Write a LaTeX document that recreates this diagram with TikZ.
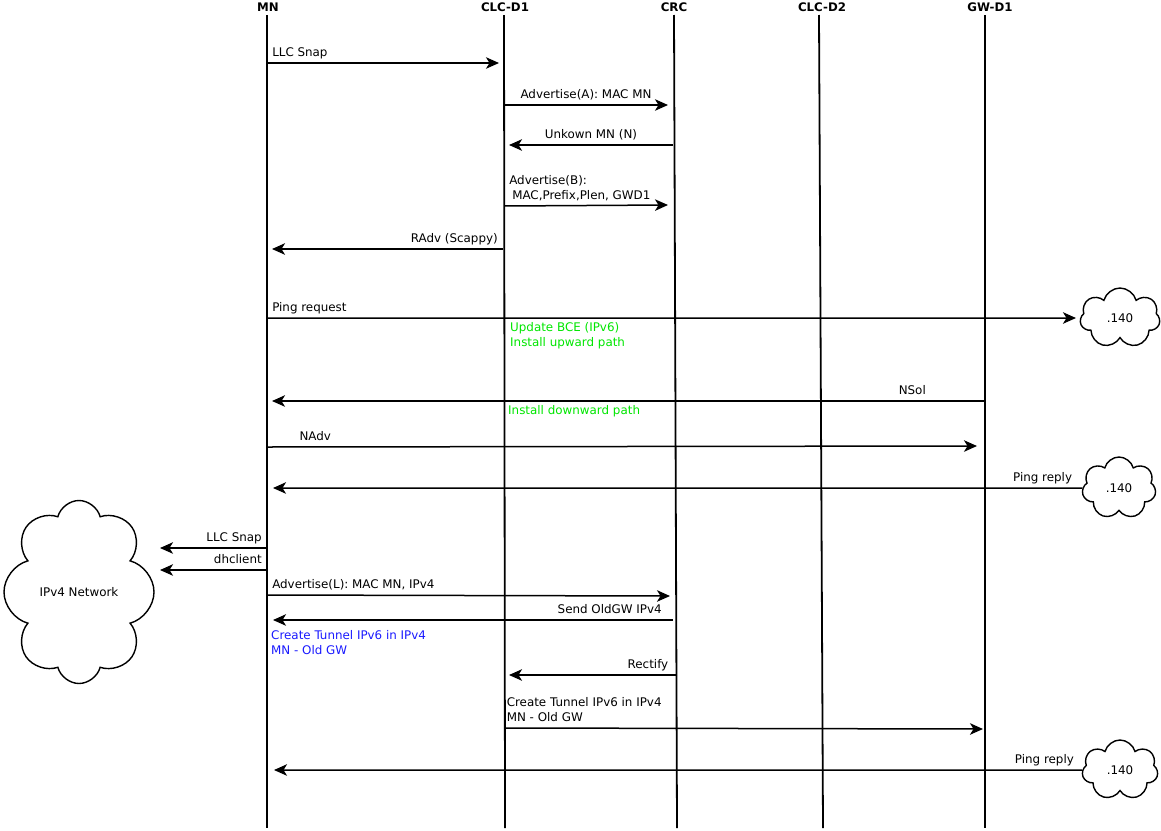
\documentclass[tikz,border=0pt]{standalone}
\usepackage{fontspec}
\setmainfont{DejaVu Sans}
\usetikzlibrary{arrows.meta,positioning,shapes.symbols}
\definecolor{NoteGreen}{HTML}{00E600}
\definecolor{NoteBlue}{HTML}{1A1AFF}

\begin{document}
\begin{tikzpicture}[
  x=1pt, y=-1pt,
  actor/.style={
    font=\fontsize{11.8}{14}\selectfont\bfseries,
    inner sep=2pt
  },
  life/.style={line width=1.8pt},
  msg/.style={-{Stealth[length=13pt,width=11.5pt,inset=3.5pt]},line width=1.5pt},
  lbl/.style={
    font=\fontsize{11.9}{15}\selectfont,
    align=left,
    inner xsep=4.5pt,
    inner ysep=2.5pt,
    text depth=3.5pt
  },
  note/.style={
    font=\fontsize{11.9}{15}\selectfont,
    align=left,
    anchor=north west,
    inner sep=0pt
  },
  net/.style={
    cloud,
    draw,
    line width=1.4pt,
    cloud puffs=7,
    cloud ignores aspect,
    font=\fontsize{11.9}{14}\selectfont
  }
]
  \useasboundingbox (0,0) rectangle (1161,830);

  % participants
  \node[actor] (mn) at (268,7) {MN};
  \node[actor] (clcone) at (505,7) {CLC-D1};
  \node[actor] (crc) at (674,7) {CRC};
  \node[actor] (clctwo) at (822,7) {CLC-D2};
  \node[actor] (gw) at (990,7) {GW-D1};

  \coordinate (mnTop) at (267,15);
  \coordinate (mnBot) at (267,828);
  \coordinate (clconeTop) at (504,15);
  \coordinate (clconeBot) at (505,828);
  \coordinate (crcTop) at (674,15);
  \coordinate (crcBot) at (677,828);
  \coordinate (clctwoTop) at (819,15);
  \coordinate (clctwoBot) at (823,828);
  \coordinate (gwTop) at (985,15);
  \coordinate (gwBot) at (985,828);

  \draw[life] (mnTop) -- (mnBot);
  \draw[life] (clconeTop) -- (clconeBot);
  \draw[life] (crcTop) -- (crcBot);
  \draw[life] (clctwoTop) -- (clctwoBot);
  \draw[life] (gwTop) -- (gwBot);

  % clouds
  \node[net, minimum width=80pt, minimum height=60pt] (hostA) at (1120,318) {.140};
  \node[net, minimum width=74pt, minimum height=62pt] (hostB) at (1119,488) {.140};
  \node[net, minimum width=76pt, minimum height=60pt] (hostC) at (1120,770) {.140};
  \node[net, minimum width=150pt, minimum height=183pt, cloud puffs=8] (ipvfour) at (79,592) {IPv4 Network};

  % message end points
  \coordinate (snapFrom) at (267,63);
  \coordinate (snapTo) at (499,63);
  \coordinate (advaFrom) at (504,105);
  \coordinate (advaTo) at (668,105);
  \coordinate (unknFrom) at (673,145);
  \coordinate (unknTo) at (509,145);
  \coordinate (advbFrom) at (504,206);
  \coordinate (advbTo) at (668,205);
  \coordinate (radvFrom) at (503,249);
  \coordinate (radvTo) at (272,249);
  \coordinate (pingFrom) at (267,318);
  \coordinate (nsolFrom) at (985,401);
  \coordinate (nsolTo) at (272,401);
  \coordinate (nadvFrom) at (267,447);
  \coordinate (nadvTo) at (977,446);
  \coordinate (replyTo) at (273,488);
  \coordinate (llcFrom) at (267,548);
  \coordinate (llcTo) at (160,548);
  \coordinate (dhcpFrom) at (267,570);
  \coordinate (dhcpTo) at (160,570);
  \coordinate (advlFrom) at (267,595);
  \coordinate (advlTo) at (670,596);
  \coordinate (oldgwFrom) at (673,620);
  \coordinate (oldgwTo) at (273,620);
  \coordinate (rectFrom) at (677,675);
  \coordinate (rectTo) at (509,675);
  \coordinate (tunFrom) at (505,728);
  \coordinate (tunTo) at (983,729);
  \coordinate (lastTo) at (274,770);

  % messages
  \draw[msg] (snapFrom) -- node[lbl, pos=0, above right] {LLC Snap} (snapTo);
  \draw[msg] (advaFrom) -- node[lbl, midway, above] {Advertise(A): MAC MN} (advaTo);
  \draw[msg] (unknFrom) -- node[lbl, midway, above] {Unkown MN (N)} (unknTo);
  \draw[msg] (advbFrom) -- node[lbl, pos=0, above right] {Advertise(B):\\\hspace*{3pt}MAC,Prefix,Plen, GWD1} (advbTo);
  \draw[msg] (radvFrom) -- node[lbl, pos=0, above left] {RAdv (Scappy)} (radvTo);
  \draw[msg, shorten >=4pt] (pingFrom) -- node[lbl, pos=0, above right] {Ping request} (hostA);
  \draw[msg] (nsolFrom) -- node[lbl, pos=0.102, above] {NSol} (nsolTo);
  \draw[msg] (nadvFrom) -- node[lbl, pos=0.068, above] {NAdv} (nadvTo);
  \draw[msg] (hostB) -- node[lbl, pos=0, above left, xshift=-5pt] {Ping reply} (replyTo);
  \draw[msg] (llcFrom) -- node[lbl, pos=0, above left] {LLC Snap} (llcTo);
  \draw[msg] (dhcpFrom) -- node[lbl, pos=0, above left] {dhclient} (dhcpTo);
  \draw[msg] (advlFrom) -- node[lbl, pos=0, above right] {Advertise(L): MAC MN, IPv4} (advlTo);
  \draw[msg] (oldgwFrom) -- node[lbl, pos=0, above left, xshift=-6pt] {Send OldGW IPv4} (oldgwTo);
  \draw[msg] (rectFrom) -- node[lbl, pos=0, above left, xshift=-3.5pt] {Rectify} (rectTo);
  \draw[msg] (tunFrom) -- node[lbl, pos=0, above right, xshift=-3.5pt] {Create Tunnel IPv6 in IPv4\\MN - Old GW} (tunTo);
  \draw[msg] (hostC) -- node[lbl, pos=0, above left, xshift=-3pt] {Ping reply} (lastTo);

  % notes
  \node[note, text=NoteGreen] (upnote) at (510,322) {Update BCE (IPv6)\\Install upward path};
  \node[note, text=NoteGreen] (downnote) at (508,405) {Install downward path};
  \node[note, text=NoteBlue] (tunnote) at (271,630) {Create Tunnel IPv6 in IPv4\\MN - Old GW};
\end{tikzpicture}
\end{document}
